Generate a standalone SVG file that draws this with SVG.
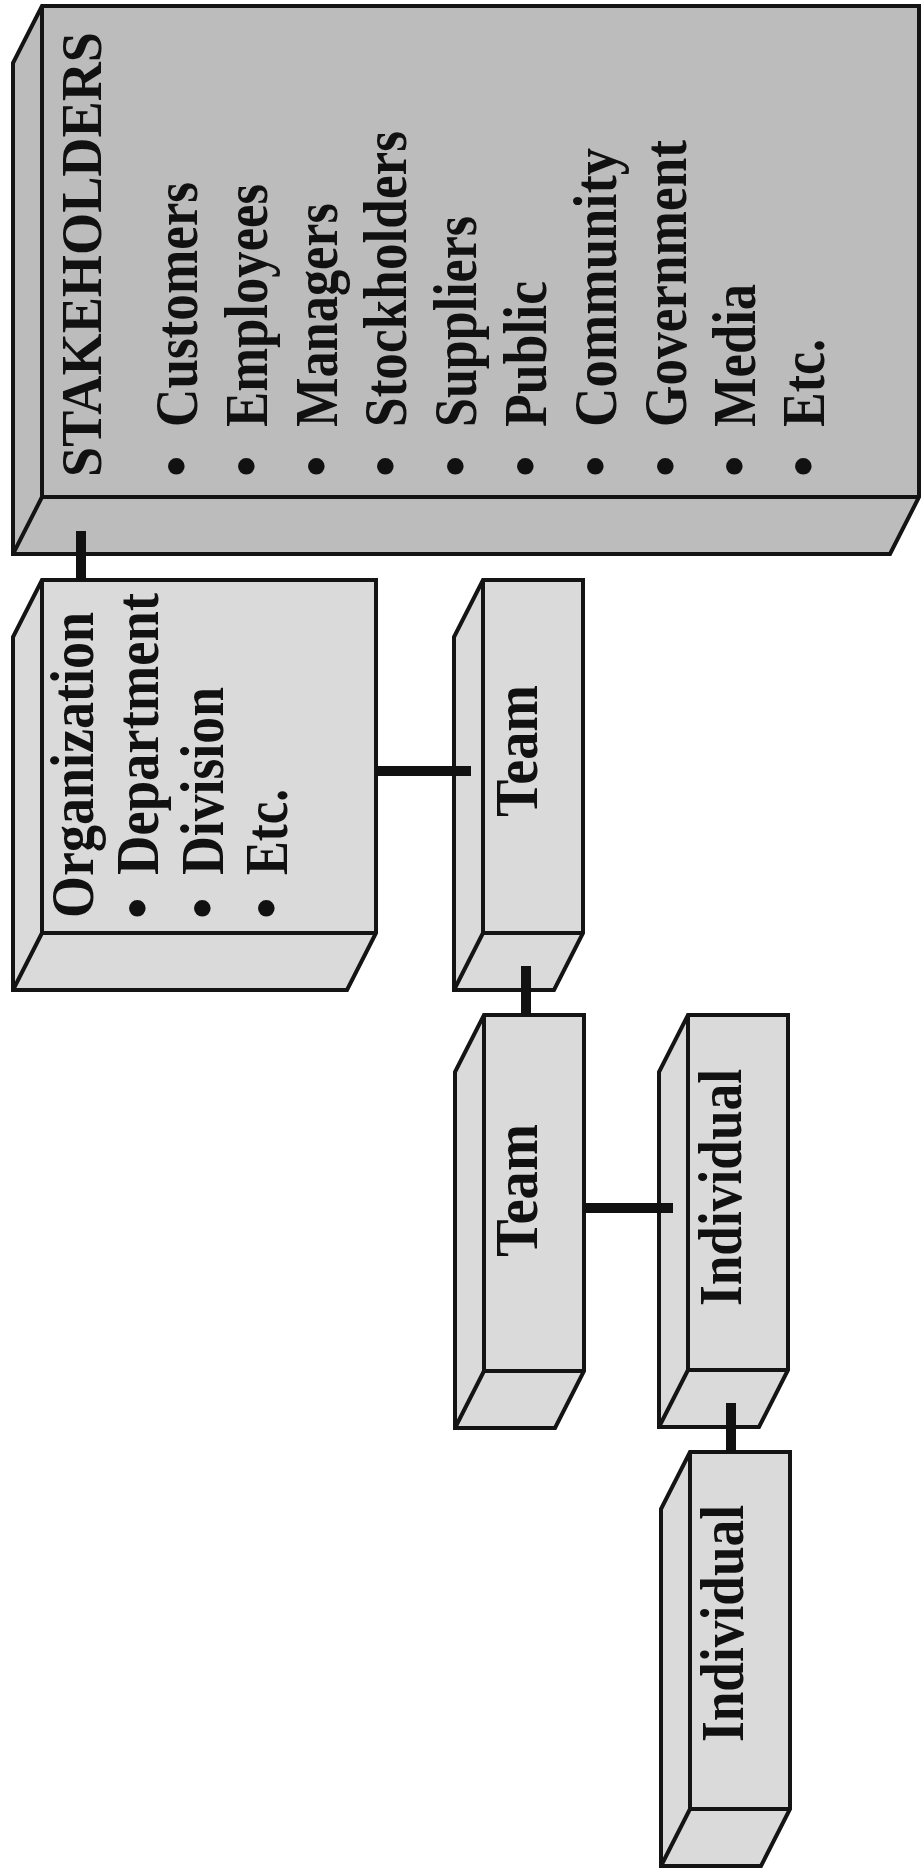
<svg xmlns="http://www.w3.org/2000/svg" width="923" height="1871" viewBox="0 0 923 1871">
  <style>
    .box { stroke: #141414; stroke-width: 4; stroke-linejoin: miter; }
    .dark { fill: #bcbcbc; }
    .light { fill: #dadada; }
    .edge { fill: none; stroke: #141414; stroke-width: 4; stroke-linejoin: miter; }
    .link { stroke: #111; stroke-width: 10; stroke-linecap: butt; fill: none; }
    text { font-family: "Liberation Serif", "Times New Roman", serif; font-weight: bold; font-size: 61px; fill: #111; }
    .title { font-size: 58px; }
  </style>

  <rect width="923" height="1871" fill="#ffffff"/>

  <!-- Stakeholders block -->
  <g id="stakeholders">
    <path class="box dark" d="M42,6 L919,6 L919,497 L890,554 L13,554 L13,63 Z"/>
    <path class="edge" d="M42,6 L42,497 L919,497 M42,497 L13,554"/>
    <text class="title" transform="translate(101,477) rotate(-90)" textLength="445" lengthAdjust="spacingAndGlyphs">STAKEHOLDERS</text>
    <text transform="translate(197,477) rotate(-90)"><tspan x="0">•</tspan><tspan x="50" textLength="245" lengthAdjust="spacingAndGlyphs">Customers</tspan></text>
    <text transform="translate(267,477) rotate(-90)"><tspan x="0">•</tspan><tspan x="50" textLength="243" lengthAdjust="spacingAndGlyphs">Employees</tspan></text>
    <text transform="translate(337,477) rotate(-90)"><tspan x="0">•</tspan><tspan x="50" textLength="224" lengthAdjust="spacingAndGlyphs">Managers</tspan></text>
    <text transform="translate(406,477) rotate(-90)"><tspan x="0">•</tspan><tspan x="50" textLength="296" lengthAdjust="spacingAndGlyphs">Stockholders</tspan></text>
    <text transform="translate(476,477) rotate(-90)"><tspan x="0">•</tspan><tspan x="50" textLength="211" lengthAdjust="spacingAndGlyphs">Suppliers</tspan></text>
    <text transform="translate(546,477) rotate(-90)"><tspan x="0">•</tspan><tspan x="50" textLength="146" lengthAdjust="spacingAndGlyphs">Public</tspan></text>
    <text transform="translate(616,477) rotate(-90)"><tspan x="0">•</tspan><tspan x="50" textLength="279" lengthAdjust="spacingAndGlyphs">Community</tspan></text>
    <text transform="translate(686,477) rotate(-90)"><tspan x="0">•</tspan><tspan x="50" textLength="287" lengthAdjust="spacingAndGlyphs">Government</tspan></text>
    <text transform="translate(755,477) rotate(-90)"><tspan x="0">•</tspan><tspan x="50" textLength="143" lengthAdjust="spacingAndGlyphs">Media</tspan></text>
    <text transform="translate(824,477) rotate(-90)"><tspan x="0">•</tspan><tspan x="50" textLength="88" lengthAdjust="spacingAndGlyphs">Etc.</tspan></text>
  </g>

  <!-- Organization block -->
  <g id="organization">
    <path class="box light" d="M42,580 L376,580 L376,933 L347,990 L13,990 L13,637 Z"/>
    <path class="edge" d="M42,580 L42,933 L376,933 M42,933 L13,990"/>
    <text transform="translate(93,918) rotate(-90)" textLength="306" lengthAdjust="spacingAndGlyphs">Organization</text>
    <text transform="translate(158,919) rotate(-90)"><tspan x="0">•</tspan><tspan x="44" textLength="282" lengthAdjust="spacingAndGlyphs">Department</tspan></text>
    <text transform="translate(223,919) rotate(-90)"><tspan x="0">•</tspan><tspan x="44" textLength="188" lengthAdjust="spacingAndGlyphs">Division</tspan></text>
    <text transform="translate(287,919) rotate(-90)"><tspan x="0">•</tspan><tspan x="44" textLength="86" lengthAdjust="spacingAndGlyphs">Etc.</tspan></text>
  </g>

  <!-- Team (upper) -->
  <g id="team-1">
    <path class="box light" d="M483,580 L583,580 L583,933 L554,990 L454,990 L454,637 Z"/>
    <path class="edge" d="M483,580 L483,933 L583,933 M483,933 L454,990"/>
    <text transform="translate(537,817) rotate(-90)" textLength="132" lengthAdjust="spacingAndGlyphs">Team</text>
  </g>

  <!-- Team (lower) -->
  <g id="team-2">
    <path class="box light" d="M484,1015 L584,1015 L584,1371 L555,1428 L455,1428 L455,1072 Z"/>
    <path class="edge" d="M484,1015 L484,1371 L584,1371 M484,1371 L455,1428"/>
    <text transform="translate(537,1257) rotate(-90)" textLength="133" lengthAdjust="spacingAndGlyphs">Team</text>
  </g>

  <!-- Individual (upper) -->
  <g id="individual-1">
    <path class="box light" d="M688,1015 L788,1015 L788,1370 L759,1427 L659,1427 L659,1072 Z"/>
    <path class="edge" d="M688,1015 L688,1370 L788,1370 M688,1370 L659,1427"/>
    <text transform="translate(741,1306) rotate(-90)" textLength="237" lengthAdjust="spacingAndGlyphs">Individual</text>
  </g>

  <!-- Individual (lower) -->
  <g id="individual-2">
    <path class="box light" d="M690,1452 L790,1452 L790,1809 L761,1866 L661,1866 L661,1509 Z"/>
    <path class="edge" d="M690,1452 L690,1809 L790,1809 M690,1809 L661,1866"/>
    <text transform="translate(743,1742) rotate(-90)" textLength="237" lengthAdjust="spacingAndGlyphs">Individual</text>
  </g>

  <!-- Connectors -->
  <g id="connectors">
    <line class="link" x1="81" y1="531" x2="81" y2="580"/>
    <line class="link" x1="376" y1="771" x2="471" y2="771"/>
    <line class="link" x1="526" y1="966" x2="526" y2="1015"/>
    <line class="link" x1="584" y1="1208" x2="673" y2="1208"/>
    <line class="link" x1="731" y1="1403" x2="731" y2="1452"/>
  </g>
</svg>
